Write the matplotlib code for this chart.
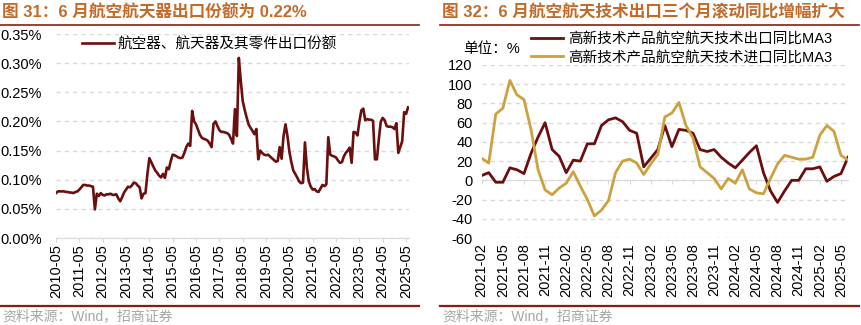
import pandas as pd
import matplotlib
matplotlib.use("Agg")
import matplotlib.pyplot as plt
from matplotlib.lines import Line2D
from matplotlib.ticker import FuncFormatter

plt.rcParams['font.family'] = ['Liberation Sans', 'Noto Sans CJK SC']
plt.rcParams['axes.unicode_minus'] = False

DARK_RED = '#6B0E0E'
GOLD = '#CCA13E'
TITLE_COLOR = '#C46A2A'
RULE_COLOR = '#8C1C13'
GRID_COLOR = '#D9D9D9'
SOURCE_COLOR = '#A6A6A6'

W, H = 862, 325

# left chart: aerospace export share (%), monthly 2010-05 .. 2025-06
share_months = pd.period_range('2010-05', '2025-06', freq='M').strftime('%Y-%m').tolist()
share = [
    0.077, 0.080, 0.080, 0.080, 0.080, 0.079, 0.079, 0.078, 0.078, 0.077, 0.079, 0.080,
    0.083, 0.087, 0.091, 0.091, 0.090, 0.090, 0.089, 0.088, 0.049, 0.076, 0.072, 0.077,
    0.074, 0.073, 0.075, 0.075, 0.076, 0.074, 0.074, 0.075, 0.068, 0.063, 0.070, 0.078,
    0.083, 0.088, 0.087, 0.090, 0.095, 0.094, 0.090, 0.087, 0.068, 0.076, 0.077, 0.110,
    0.137, 0.130, 0.123, 0.116, 0.112, 0.107, 0.104, 0.110, 0.103, 0.121, 0.118, 0.132,
    0.143, 0.142, 0.140, 0.138, 0.137, 0.138, 0.146, 0.156, 0.162, 0.158, 0.218, 0.200,
    0.195, 0.186, 0.177, 0.172, 0.170, 0.169, 0.167, 0.162, 0.156, 0.196, 0.200, 0.192,
    0.185, 0.182, 0.182, 0.181, 0.180, 0.177, 0.170, 0.162, 0.221, 0.175, 0.309, 0.270,
    0.235, 0.220, 0.207, 0.195, 0.189, 0.184, 0.178, 0.187, 0.135, 0.150, 0.146, 0.143,
    0.142, 0.143, 0.140, 0.137, 0.134, 0.131, 0.132, 0.156, 0.136, 0.175, 0.195, 0.175,
    0.148, 0.130, 0.116, 0.110, 0.104, 0.097, 0.094, 0.095, 0.164, 0.120, 0.097, 0.088,
    0.083, 0.084, 0.080, 0.079, 0.085, 0.091, 0.089, 0.092, 0.173, 0.143, 0.141, 0.140,
    0.138, 0.133, 0.129, 0.130, 0.140, 0.146, 0.150, 0.155, 0.129, 0.182, 0.181, 0.176,
    0.200, 0.219, 0.222, 0.202, 0.204, 0.203, 0.203, 0.201, 0.135, 0.135, 0.170, 0.200,
    0.206, 0.202, 0.192, 0.191, 0.191, 0.190, 0.187, 0.197, 0.146, 0.156, 0.166, 0.216,
    0.213, 0.224,
]
share_ticks = ['2010-05', '2011-05', '2012-05', '2013-05', '2014-05', '2015-05',
               '2016-05', '2017-05', '2018-05', '2019-05', '2020-05', '2021-05',
               '2022-05', '2023-05', '2024-05', '2025-05']

# right chart: 3-month rolling yoy (%), monthly 2021-02 .. 2025-06
yoy_months = pd.period_range('2021-02', '2025-06', freq='M').strftime('%Y-%m').tolist()
export_ma3 = [5, 8, -2, -2, 13, 11, 7, 28, 45, 60, 32, 25, 8, 21, 20, 38, 38, 57,
              63, 65, 61, 52, 49, 14, 23, 32, 57, 35, 53, 52, 49, 32, 30, 32, 24, 18,
              13, 21, 29, 36, 8, -11, -23, -11, 0, 0, 12, 12, 14, -1, 4, 7, 24]
import_ma3 = [23, 18, 69, 75, 104, 89, 84, 53, 11, -10, -15, -8, -3, 9, -6, -20, -37, -31,
              -21, 8, 20, 22, 18, 6, 17, 27, 66, 70, 81, 57, 44, 14, 8, 2, -9, 2,
              -3, 11, -9, -13, -14, 2, 17, 26, 24, 22, 22, 24, 47, 57, 51, 26, 21]
yoy_ticks = ['2021-02', '2021-05', '2021-08', '2021-11', '2022-02', '2022-05',
             '2022-08', '2022-11', '2023-02', '2023-05', '2023-08', '2023-11',
             '2024-02', '2024-05', '2024-08', '2024-11', '2025-02', '2025-05']


def px(x0, y0, x1, y1):
    return [x0 / W, 1 - y1 / H, (x1 - x0) / W, (y1 - y0) / H]


def header(fig, x0, x1, title):
    fig.text((x0 + 2) / W, 1 - 12 / H, title, fontsize=12, fontweight='bold',
             color=TITLE_COLOR, va='center')
    fig.add_artist(Line2D([x0 / W, x1 / W], [1 - 24.5 / H] * 2, color=RULE_COLOR, lw=1.2))
    fig.add_artist(Line2D([x0 / W, x1 / W], [1 - 306 / H] * 2, color=RULE_COLOR, lw=1.6))
    fig.text((x0 + 2) / W, 1 - 316 / H, '资料来源：Wind，招商证券', fontsize=10,
             color=SOURCE_COLOR, va='center')


def style_axes(ax):
    for side in ['top', 'right', 'left']:
        ax.spines[side].set_visible(False)
    ax.yaxis.grid(True, ls=(0, (3, 3)), color=GRID_COLOR, lw=1)
    ax.set_axisbelow(True)


def main():
    fig = plt.figure(figsize=(W / 100, H / 100), dpi=100)

    header(fig, 0, 419, '图 31：6 月航空航天器出口份额为 0.22%')
    header(fig, 440, 859, '图 32：6 月航空航天技术出口三个月滚动同比增幅扩大')

    # left
    ax1 = fig.add_axes(px(56, 34, 409, 238))
    style_axes(ax1)
    ax1.plot(range(len(share)), share, color=DARK_RED, lw=1.9,
             label='航空器、航天器及其零件出口份额')
    ax1.set_xlim(0, len(share) - 0.5)
    ax1.set_ylim(0, 0.35)
    ax1.set_yticks([i * 0.05 for i in range(8)])
    ax1.yaxis.set_major_formatter(FuncFormatter(lambda v, p: f'{v:.2f}%'))
    ax1.set_xticks([share_months.index(t) for t in share_ticks])
    ax1.set_xticklabels(share_ticks, rotation=90)
    ax1.spines['bottom'].set_color(GRID_COLOR)
    ax1.tick_params(axis='y', length=0, pad=10, labelsize=10.5)
    ax1.tick_params(axis='x', length=3, color=GRID_COLOR, pad=1.5, labelsize=10.5)
    ax1.legend(loc='upper left', bbox_to_anchor=(82 / W, 1 - 37 / H),
               bbox_transform=fig.transFigure, frameon=False, fontsize=10.5,
               handlelength=2.2, handletextpad=0.25, borderpad=0, borderaxespad=0)

    # right
    ax2 = fig.add_axes(px(481.7, 65, 848, 238))
    style_axes(ax2)
    x = range(len(yoy_months))
    ax2.plot(x, export_ma3, color=DARK_RED, lw=2, label='高新技术产品航空航天技术出口同比MA3')
    ax2.plot(x, import_ma3, color=GOLD, lw=2, label='高新技术产品航空航天技术进口同比MA3')
    ax2.set_xlim(0, len(yoy_months) - 1)
    ax2.set_ylim(-60, 120)
    ax2.set_yticks(range(-60, 121, 20))
    tick_pos = [yoy_months.index(t) for t in yoy_ticks]
    ax2.set_xticks(tick_pos)
    ax2.set_xticklabels(yoy_ticks, rotation=90)
    ax2.spines['bottom'].set_visible(False)
    ax2.tick_params(axis='y', length=0, pad=6.5, labelsize=10.5)
    ax2.tick_params(axis='x', length=0, pad=3.6, labelsize=10.5)

    zero = ax2.secondary_xaxis(1 / 3)
    zero.set_xticks(tick_pos)
    zero.tick_params(labelbottom=False, labeltop=False, length=3, color=GRID_COLOR)
    for s in zero.spines.values():
        s.set_color(GRID_COLOR)

    ax2.legend(loc='upper left', bbox_to_anchor=(531 / W, 1 - 32 / H),
               bbox_transform=fig.transFigure, frameon=False, fontsize=10.5,
               handlelength=2.2, handletextpad=0.35, labelspacing=0.3,
               borderpad=0, borderaxespad=0)
    fig.text(463 / W, 1 - 49 / H, '单位：%', fontsize=10.5, va='center')

    fig.savefig('out.png', dpi=100)


if __name__ == "__main__":
    main()
